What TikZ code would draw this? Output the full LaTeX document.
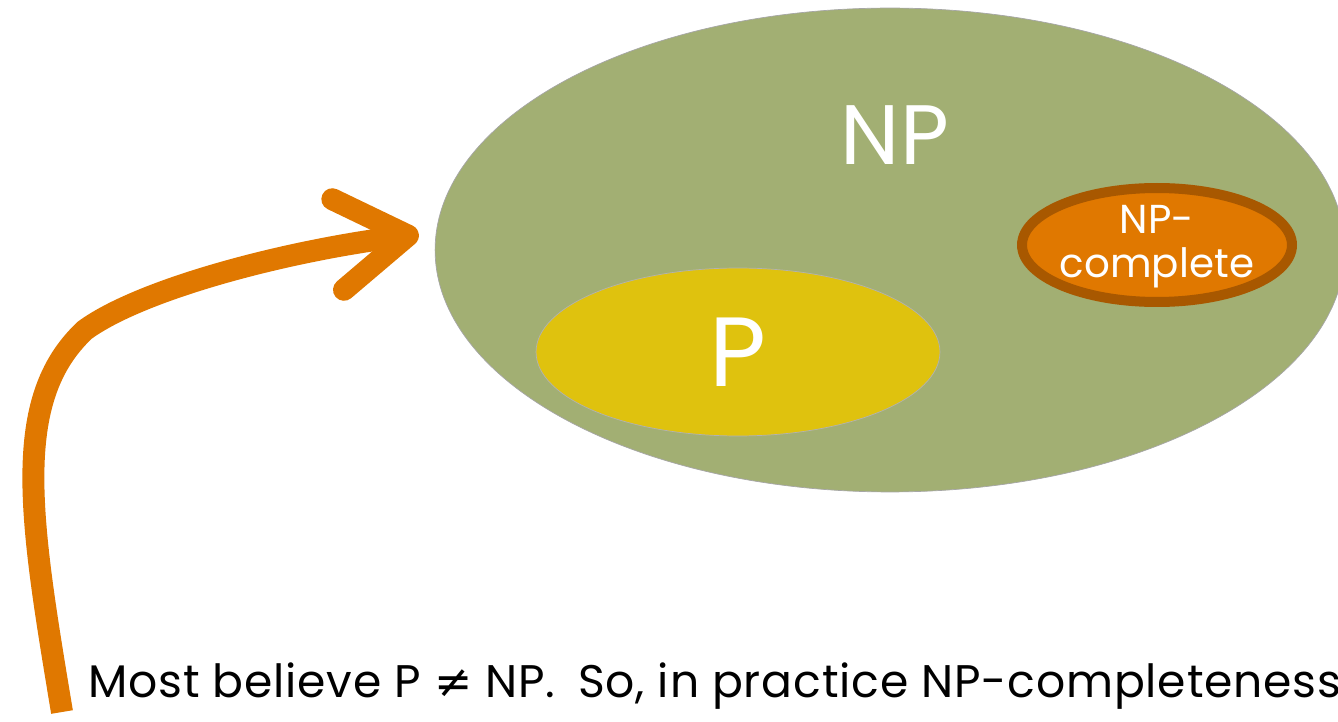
\documentclass[tikz,border=0pt]{standalone}
\usepackage{fontspec}
\setmainfont{Poppins}
\newfontfamily\symfont{DejaVu Sans}
\usepackage{xcolor}
\usetikzlibrary{positioning,shapes.geometric,arrows.meta}

\definecolor{npgreen}{HTML}{A2AF73}
\definecolor{pyellow}{HTML}{DFC20E}
\definecolor{npcorange}{HTML}{E07800}
\definecolor{npcbrown}{HTML}{A85800}

\begin{document}
\begin{tikzpicture}[x=0.02cm, y=-0.02cm]
				\tikzset{
					cls/.style={ellipse, inner sep=0pt},
					clslabel/.style={text=white, inner sep=0pt},
					believe/.style={draw=npcorange, line width=12.5pt}
				}
				\useasboundingbox (0,0) rectangle (1338,722);
				\clip (0,0) rectangle (1338,722);
				
				% ---- NP ----
				\node[cls, fill=npgreen, draw=black!35, minimum width=18.2cm, minimum height=9.68cm] (np) at (890,250) {};
				\node[clslabel, font=\fontsize{48}{50}\selectfont] (nplabel) at (895,135) {NP};
				
				% ---- P ----
				\node[cls, fill=pyellow, draw=black!30, minimum width=8.08cm, minimum height=3.36cm, font=\fontsize{56}{58}\selectfont, text=white] (p) at (738,352) {P};
				
				% ---- NP-complete ----
				\node[cls, fill=npcorange, draw=npcbrown, line width=5.7pt, minimum width=5.4cm, minimum height=2.28cm] (npc) at (1157,245) {};
				\node[clslabel, align=center, font=\fontsize{23}{25}\selectfont] (npclabel) at (1157,247) {NP-\\complete};
				
				% ---- Arrow and text ----
				\coordinate (tail) at (62,712);
				\draw[believe, line cap=butt, -{Straight Barb[length=40pt, width=52pt, round]}] (tail) .. controls (30,520) and (10,400) .. (85,330) .. controls (140,290) and (280,252) .. ([xshift=-0.34cm]np.178);
				
				\node[anchor=base west, inner sep=0pt, font=\fontsize{26}{30}\selectfont\addfontfeatures{LetterSpace=1.8}] (text) at (88,697) {Most believe P {\symfont ≠} NP.\enspace So, in practice NP-completeness};
			\end{tikzpicture}
\end{document}
